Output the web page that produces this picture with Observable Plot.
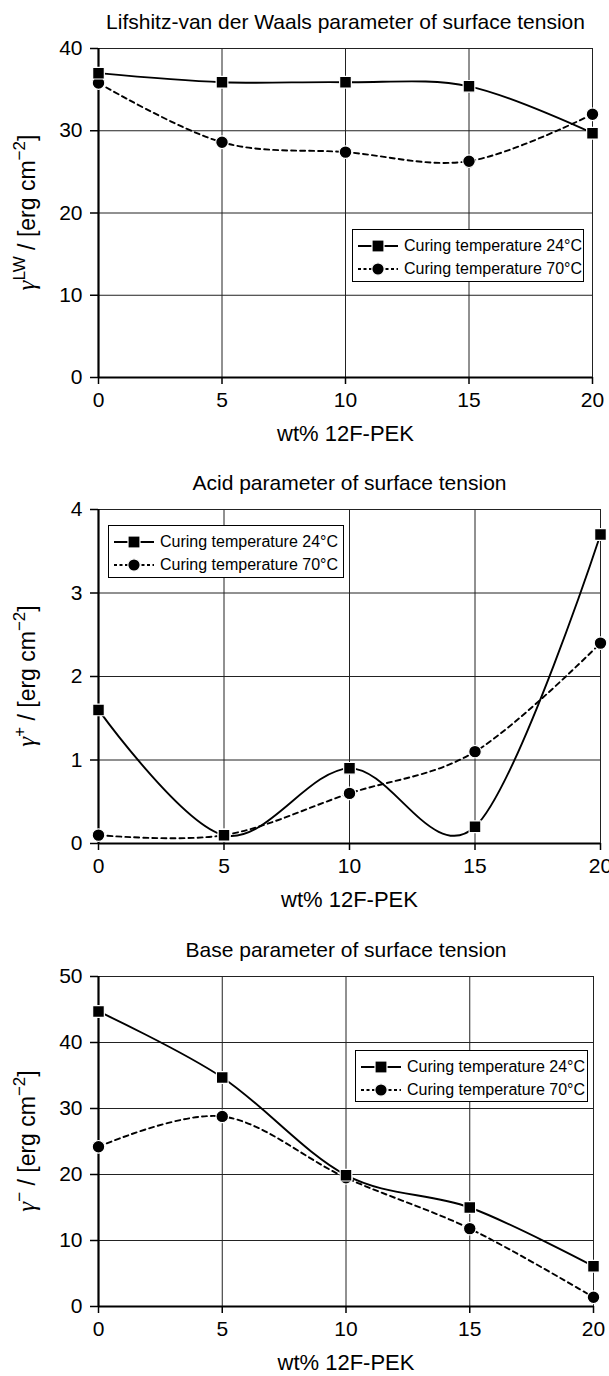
<!DOCTYPE html>
<html>
<head>
<meta charset="utf-8">
<script src="https://cdn.jsdelivr.net/npm/d3@7"></script>
<script src="https://cdn.jsdelivr.net/npm/@observablehq/plot@0.6"></script>
<style>
  html, body { margin: 0; padding: 0; background: #fff; overflow: hidden; }
  #wrap { position: relative; width: 609px; height: 1376px; font-family: Arial, "Liberation Sans", Helvetica, sans-serif; }
  .panel { position: absolute; left: 0; }
  .legend { position: absolute; box-sizing: border-box; border: 1.5px solid #000; background: #fff; font-size: 16px; color: #000; }
  .legend .row { position: absolute; left: 0; height: 20px; display: flex; align-items: center; white-space: nowrap; }
  .legend svg { display: block; }
</style>
</head>
<body>
<div id="wrap"></div>
<script>
// ---- data ----
const wt = [0, 5, 10, 15, 20];
const xTicks = [0, 5, 10, 15, 20];
const seriesNames = ["Curing temperature 24°C", "Curing temperature 70°C"];

const lw24 = [37.0, 35.9, 35.9, 35.4, 29.7];
const lw70 = [35.8, 28.6, 27.4, 26.3, 32.0];
const lwTicks = [0, 10, 20, 30, 40];

const acid24 = [1.6, 0.1, 0.9, 0.2, 3.7];
const acid70 = [0.1, 0.1, 0.6, 1.1, 2.4];
const acidTicks = [0, 1, 2, 3, 4];

const base24 = [44.7, 34.7, 19.9, 15.0, 6.1];
const base70 = [24.2, 28.8, 19.5, 11.8, 1.4];
const baseTicks = [0, 10, 20, 30, 40, 50];

const titles = [
  "Lifshitz-van der Waals parameter of surface tension",
  "Acid parameter of surface tension",
  "Base parameter of surface tension"
];
const yLabelSup = ["LW", "+", "\u2212"];
const xLabel = "wt% 12F-PEK";

// ---- layout ----
const panels = [
  { top: 0,   mt: 48, plotH: 329, mb: 71, mr: 17, a: lw24,   b: lw70,   ticks: lwTicks,   title: titles[0], sup: yLabelSup[0],
    legend: { left: 352, top: 229, w: 232, h: 53 } },
  { top: 460, mt: 49, plotH: 334, mb: 71, mr: 9,  a: acid24, b: acid70, ticks: acidTicks, title: titles[1], sup: yLabelSup[1],
    legend: { left: 108, top: 525, w: 236, h: 53 } },
  { top: 930, mt: 46, plotH: 330, mb: 70, mr: 16, a: base24, b: base70, ticks: baseTicks, title: titles[2], sup: yLabelSup[2],
    legend: { left: 355, top: 1050, w: 233, h: 52 } }
];

const wrap = document.getElementById("wrap");
const W = 609, ML = 98;

panels.forEach((p) => {
  const d24 = wt.map((x, i) => ({ x, y: p.a[i] }));
  const d70 = wt.map((x, i) => ({ x, y: p.b[i] }));
  const ymax = p.ticks[p.ticks.length - 1];
  const H = p.mt + p.plotH + p.mb;

  const chart = Plot.plot({
    width: W,
    height: H,
    marginTop: p.mt,
    marginBottom: p.mb,
    marginLeft: ML,
    marginRight: p.mr,
    style: { fontFamily: "Arial, 'Liberation Sans', Helvetica, sans-serif", fontSize: "20px", color: "#000", background: "transparent", overflow: "visible" },
    x: { domain: [0, 20] },
    y: { domain: [0, ymax] },
    marks: [
      Plot.gridX(xTicks.filter(d => d > 0), { stroke: "#222", strokeOpacity: 1, strokeWidth: 1 }),
      Plot.gridY(p.ticks.filter(d => d > 0), { stroke: "#222", strokeOpacity: 1, strokeWidth: 1 }),
      Plot.axisX(xTicks, { tickSize: 7, tickPadding: 8, fontSize: 21, strokeWidth: 1.5, tickFormat: d3.format("d"), label: null }),
      Plot.axisY(p.ticks, { tickSize: 8, tickPadding: 8, fontSize: 21, strokeWidth: 1.5, tickFormat: d3.format("d"), label: null }),
      Plot.ruleX([0], { stroke: "#000", strokeWidth: 2.2 }),
      Plot.ruleY([0], { stroke: "#000", strokeWidth: 2.2 }),
      Plot.line(d70, { x: "x", y: "y", curve: "cardinal", stroke: "#000", strokeWidth: 1.9, strokeDasharray: "5,4" }),
      Plot.line(d24, { x: "x", y: "y", curve: "cardinal", stroke: "#000", strokeWidth: 1.9 }),
      Plot.dot(d70, { x: "x", y: "y", symbol: "circle", r: 6.3, fill: "#000", stroke: "#fff", strokeWidth: 1.2 }),
      Plot.dot(d24, { x: "x", y: "y", symbol: "square", r: 6.6, fill: "#000", stroke: "#fff", strokeWidth: 1.2 }),
      Plot.text([p.title], { frameAnchor: "top", lineAnchor: "middle", dy: -26, fontSize: 21, fill: "#000" }),
      Plot.text([xLabel], { frameAnchor: "bottom", lineAnchor: "middle", dy: 56, fontSize: 22, fill: "#000" })
    ]
  });

  // rotated y label with superscripts
  const cy = p.mt + p.plotH / 2;
  const t = d3.select(chart).append("text")
    .attr("transform", `translate(35,${cy}) rotate(-90)`)
    .attr("text-anchor", "middle")
    .attr("font-size", 23)
    .attr("font-family", "Arial, 'Liberation Sans', sans-serif")
    .attr("fill", "#000");
  t.append("tspan").attr("font-family", "'Liberation Serif', 'DejaVu Serif', serif").attr("font-style", "italic").attr("font-size", 25).text("\u03b3");
  t.append("tspan").attr("font-size", 17).attr("dy", -10).text(p.sup);
  t.append("tspan").attr("dy", 10).text(" / [erg cm");
  t.append("tspan").attr("font-size", 17).attr("dy", -10).text("\u22122");
  t.append("tspan").attr("dy", 10).text("]");

  const div = document.createElement("div");
  div.className = "panel";
  div.style.top = p.top + "px";
  div.appendChild(chart);
  wrap.appendChild(div);

  // legend
  const lg = document.createElement("div");
  lg.className = "legend";
  lg.style.left = p.legend.left + "px";
  lg.style.top = p.legend.top + "px";
  lg.style.width = p.legend.w + "px";
  lg.style.height = p.legend.h + "px";
  seriesNames.forEach((name, i) => {
    const row = document.createElement("div");
    row.className = "row";
    row.style.top = (i === 0 ? 6 : 29) + "px";
    const s = d3.create("svg").attr("width", 50).attr("height", 20);
    s.append("line").attr("x1", 5).attr("x2", 45).attr("y1", 10).attr("y2", 10)
      .attr("stroke", "#000").attr("stroke-width", 1.8)
      .attr("stroke-dasharray", i === 0 ? null : "3,2.5");
    if (i === 0) s.append("rect").attr("x", 19).attr("y", 4).attr("width", 12).attr("height", 12).attr("fill", "#000").attr("stroke", "#fff").attr("stroke-width", 1.2);
    else s.append("circle").attr("cx", 25).attr("cy", 10).attr("r", 6.2).attr("fill", "#000").attr("stroke", "#fff").attr("stroke-width", 1.2);
    row.appendChild(s.node());
    const sp = document.createElement("span");
    sp.textContent = name;
    sp.style.marginLeft = "1px";
    row.appendChild(sp);
    lg.appendChild(row);
  });
  wrap.appendChild(lg);
});
</script>
</body>
</html>
